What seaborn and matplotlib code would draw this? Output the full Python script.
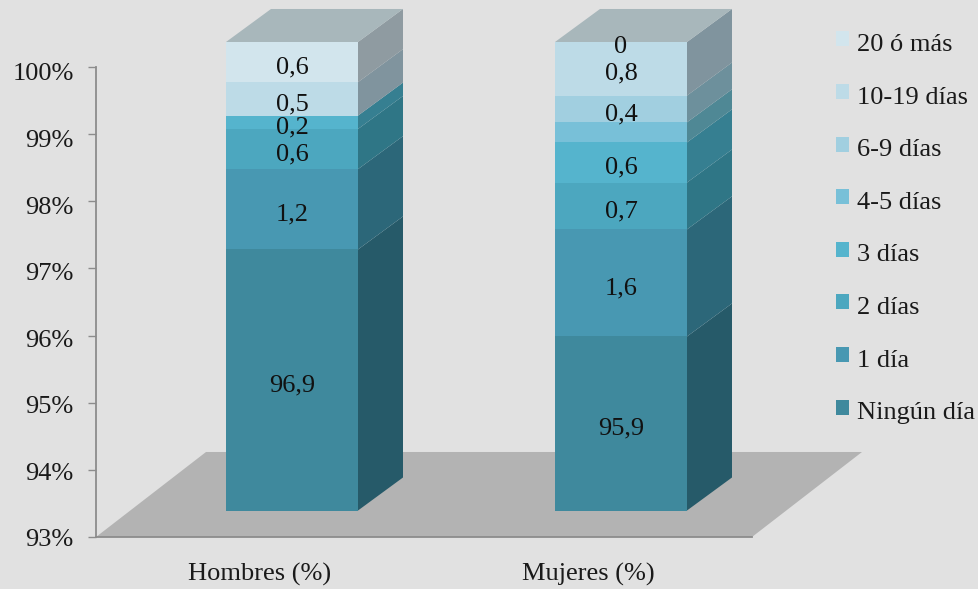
import seaborn as sns
import matplotlib.pyplot as plt
import matplotlib.transforms as mtrans
import numpy as np

categories = ["Hombres (%)", "Mujeres (%)"]
levels = ["Ningún día", "1 día", "2 días", "3 días", "4-5 días", "6-9 días", "10-19 días", "20 ó más"]
hombres = [96.9, 1.2, 0.6, 0.2, 0, 0, 0.5, 0.6]
mujeres = [95.6, 1.6, 0.7, 0.6, 0.3, 0.4, 0.8, 0]
hombres_labels = ["96,9", "1,2", "0,6", "0,2", "", "", "0,5", "0,6"]
mujeres_labels = ["95,9", "1,6", "0,7", "0,6", "", "0,4", "0,8", "0"]
yticks = [93, 94, 95, 96, 97, 98, 99, 100]

front_colors = ["#3f899d", "#4898b2", "#4ca7bf", "#55b4cd", "#78c0d8", "#a1cfe0", "#bddbe7", "#d2e5ed"]
side_colors = ["#265a69", "#2c6779", "#2f7686", "#367f91", "#4f8895", "#6d909c", "#80949e", "#8f9ba1"]
top_color = "#a8b7bb"
floor_color = "#b3b3b3"
bg = "#e1e1e1"
text_color = "#1a1a1a"

W, H = 979, 589
sns.set_style("white")
plt.rcParams["font.family"] = ["Liberation Serif", "DejaVu Sans"]
plt.rcParams["font.size"] = 19

fig = plt.figure(figsize=(W / 100, H / 100), dpi=100, facecolor=bg)


def axes_px(left, right, top, bottom):
    return fig.add_axes([left / W, 1 - bottom / H, (right - left) / W, (bottom - top) / H])


# back plane: the real axis, ticks and floor
ax = axes_px(96, 752, 67, 537)
ax.set_facecolor(bg)
ax.set_xlim(-0.5, 1.5)
ax.set_ylim(93, 100)
floor_dx, floor_dy = 110 / 328, 85 / 67.14
ax.fill([-0.5, 1.5, 1.5 + floor_dx, -0.5 + floor_dx], [93, 93, 93 + floor_dy, 93 + floor_dy],
        color=floor_color, lw=0, zorder=1, clip_on=False)
ax.set_xticks([0, 1], categories)
ax.set_yticks(yticks, [f"{t}%" for t in yticks])
ax.tick_params(axis="x", length=0, pad=19, labelsize=19, labelcolor=text_color)
ax.tick_params(axis="y", length=6, width=1, color="#8c8c8c", pad=10, left=True, labelsize=19, labelcolor=text_color)
# the tick labels sit a little under their ticks, more so towards the top
for t, lab in zip(yticks, ax.get_yticklabels()):
    shift = (1 + (t - 93) * 4 / 7) * 0.72 / 72
    lab.set_transform(lab.get_transform() + mtrans.ScaledTranslation(0, -shift, fig.dpi_scale_trans))
sns.despine(ax=ax)
for side in ["left", "bottom"]:
    ax.spines[side].set_color("#8c8c8c")
    ax.spines[side].set_linewidth(1.3)

# front plane: the bars, pushed towards the viewer
front = axes_px(96, 752, 42, 510.5)
front.patch.set_alpha(0)
bar_width = 132 / 329
depth_x, depth_y = 45 / 329, 33 / 66.9

bottoms = np.zeros(2)
handles = []
for k, level in enumerate(levels):
    values = np.array([hombres[k], mujeres[k]])
    sns.barplot(x=categories, y=values, bottom=bottoms, color=front_colors[k], saturation=1,
                width=bar_width, ax=front, linewidth=0, zorder=3)
    handles.append(plt.Rectangle((0, 0), 1, 1, color=front_colors[k], lw=0))
    tops = bottoms + values
    for i in range(2):
        if values[i] == 0:
            continue
        low = max(bottoms[i], 93)
        xr = i + bar_width / 2
        front.fill([xr, xr, xr + depth_x, xr + depth_x],
                   [low, tops[i], tops[i] + depth_y, low + depth_y],
                   color=side_colors[k], lw=0, zorder=2, clip_on=False)
    bottoms = tops

front.set_xlim((96 - 292) / 329, (752 - 292) / 329)
front.set_ylim(93, 100)
front.axis("off")

for i, lab_list in enumerate([hombres_labels, mujeres_labels]):
    vals = [hombres, mujeres][i]
    cum = np.cumsum(vals)
    xl, xr = i - bar_width / 2, i + bar_width / 2
    # roof of the box
    front.fill([xl, xr, xr + depth_x, xl + depth_x], [100, 100, 100 + depth_y, 100 + depth_y],
               color=top_color, lw=0, zorder=2, clip_on=False)
    for k, lab in enumerate(lab_list):
        if lab == "":
            continue
        low = max(cum[k] - vals[k], 93)
        front.annotate(lab, (i, (low + cum[k]) / 2), xytext=(0, -3.7), textcoords="offset points",
                       ha="center", va="center", fontsize=19, color="#111111", zorder=5, annotation_clip=False)

leg = fig.legend(handles[::-1], levels[::-1], loc="upper left", bbox_to_anchor=(836 / W, 1 - 34 / H),
                 frameon=False, fontsize=19, labelcolor=text_color, handlelength=0.49, handleheight=0.49,
                 handletextpad=0.3, labelspacing=1.16, borderpad=0, borderaxespad=0)
for patch in leg.get_patches():
    patch.set_y(patch.get_y() + 2)

fig.savefig("out.png", dpi=100, facecolor=bg)
